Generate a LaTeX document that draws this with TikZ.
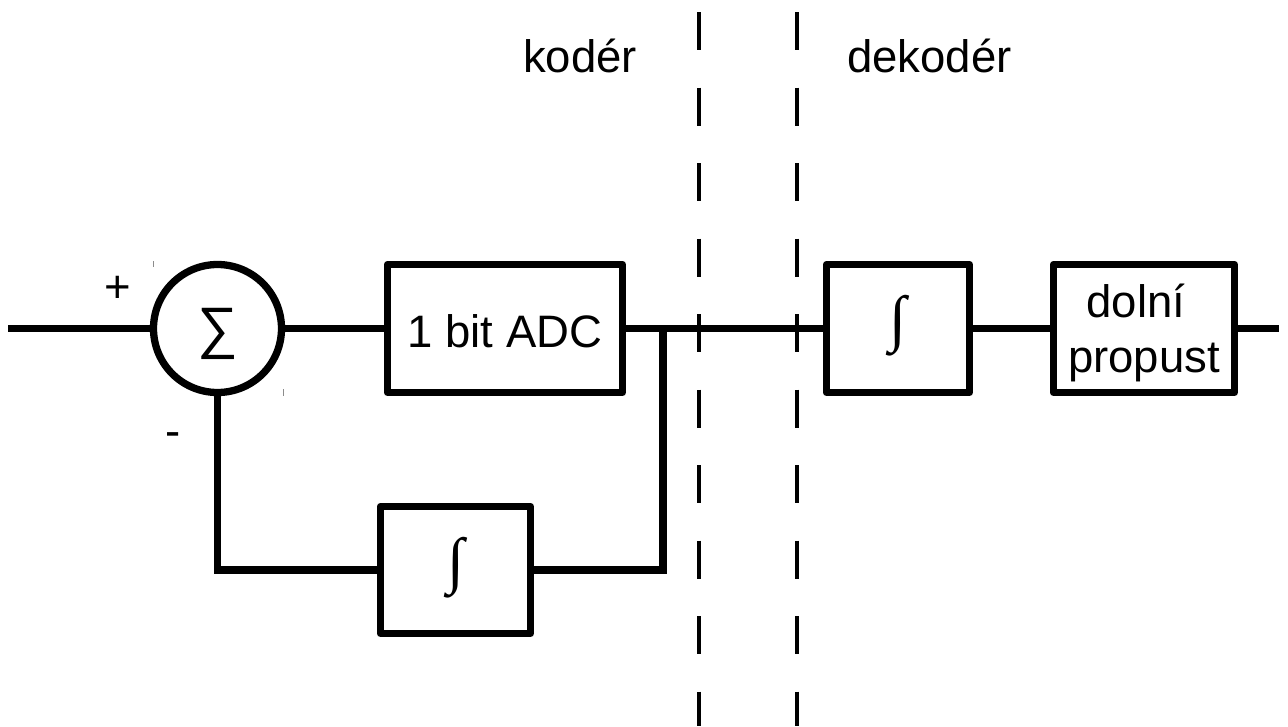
\documentclass[tikz,border=0pt]{standalone}
\usepackage{fontspec}
\setmainfont{Liberation Sans}
\newfontfamily\intfont{Liberation Serif}
\begin{document}
\begin{tikzpicture}[x=1pt,y=-1pt,
  wire/.style={line width=7.3pt},
  blockbox/.style={draw,line width=7.3pt,rectangle,inner sep=0pt,line join=round},
  sumnode/.style={draw,line width=7.3pt,circle,inner sep=0pt,minimum size=128pt},
  lbl/.style={inner sep=0pt,font=\fontsize{45.5}{54}\selectfont},
  intlbl/.style={inner sep=0pt,font=\intfont\fontsize{62}{64}\selectfont},
  siglbl/.style={inner sep=0pt,font=\fontsize{57}{60}\selectfont},
  divider/.style={line width=3.7pt,dash pattern=on 38pt off 37.5pt},
  speck/.style={line width=0.8pt,black!45}]
\useasboundingbox (0,0) rectangle (1288,726);

% encoder / decoder divide
\coordinate (d1t) at (699,12);  \coordinate (d1b) at (699,726);
\coordinate (d2t) at (797,12);  \coordinate (d2b) at (797,726);
\draw[divider] (d1t) -- (d1b);
\draw[divider] (d2t) -- (d2b);
\node[lbl,anchor=base] (kod) at (580,72) {kodér};
\node[lbl,anchor=base] (dek) at (929.5,72) {dekodér};

% summing junction
\node[sumnode] (sum) at (217.5,328.5) {};
\node[siglbl] (sig) at (217.5,333.5) {∑};
\node[lbl,anchor=base] (plus) at (118,302) {+};
\node[lbl,anchor=base] (minus) at (173,446.5) {-};

% blocks
\node[blockbox,minimum width=235pt,minimum height=128pt] (adc) at (505,328.5) {};
\node[lbl,anchor=base] (adct) at (505,347) {1 bit ADC};
\node[blockbox,minimum width=150pt,minimum height=127pt] (fint) at (455.5,570) {};
\node[intlbl] (fintt) at (455.5,568) {∫};
\node[blockbox,minimum width=143pt,minimum height=128pt] (dint) at (898,328.5) {};
\node[intlbl] (dintt) at (897.5,326) {∫};
\node[blockbox,minimum width=181pt,minimum height=128pt] (lpf) at (1144,328.5) {};
\node[lbl,anchor=base] (lpf1) at (1136,317) {dolní};
\node[lbl,anchor=base] (lpf2) at (1144,372) {propust};

% signal path
\coordinate (in) at (8,328.5);
\coordinate (out) at (1279,328.5);
\coordinate (tap) at (663,328.5);
\draw[wire] (in) -- (sum.west);
\draw[wire] (sum.east) -- (adc.west);
\draw[wire] (adc.east) -- (dint.west);
\draw[wire] (tap) |- (fint.east);
\draw[wire] (sum.south) |- (fint.west);
\draw[wire] (dint.east) -- (lpf.west);
\draw[wire] (lpf.east) -- (out);

% stray specks beside the summing junction
\coordinate (s1a) at (153,261); \coordinate (s1b) at (153,267);
\coordinate (s2a) at (283,389); \coordinate (s2b) at (283,396);
\draw[speck] (s1a) -- (s1b);
\draw[speck] (s2a) -- (s2b);
\end{tikzpicture}
\end{document}
